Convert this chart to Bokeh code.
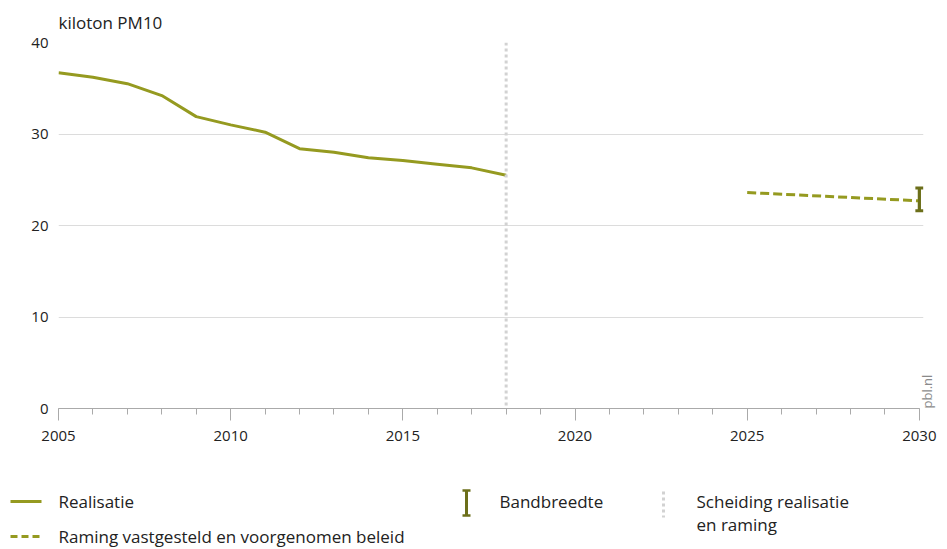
import math

from bokeh.embed import file_html
from bokeh.resources import INLINE
from bokeh.plotting import figure
from bokeh.layouts import column
from bokeh.core.properties import value
from bokeh.models import (Range1d, SingleIntervalTicker, FixedTicker, Span,
                          LinearAxis, ColumnDataSource, Whisker)

# --- data -----------------------------------------------------------------
years_real = [2005, 2006, 2007, 2008, 2009, 2010, 2011, 2012, 2013, 2014,
              2015, 2016, 2017, 2018]
pm10_real = [36.7, 36.2, 35.5, 34.2, 31.9, 31.0, 30.2, 28.4, 28.0, 27.4,
             27.1, 26.7, 26.3, 25.5]

years_proj = [2025, 2030]
pm10_proj = [23.6, 22.7]

band_year = [2030]
band_low = [21.6]
band_high = [24.1]

split_year = 2018

y_ticks = [0, 10, 20, 30, 40]

legend_labels = ["Realisatie", "Raming vastgesteld en voorgenomen beleid",
                 "Bandbreedte", "Scheiding realisatie", "en raming"]

# --- styling --------------------------------------------------------------
FONT = "Open Sans"
OLIVE = "#959a20"
OLIVE_DARK = "#6c6f1a"
GRID = "#dcdcdc"
SPLIT = "#d2d2d2"
TEXT = "#222222"

W = 947
H_MAIN = 460
H_LEG = 549 - H_MAIN

# a little room past 2030 so the band's caps are not cut off
p = figure(width=W, height=H_MAIN, output_backend="svg", toolbar_location=None,
           x_range=Range1d(2005, 2030.12), y_range=Range1d(0, 40),
           min_border_left=58, min_border_right=22, min_border_top=42,
           min_border_bottom=52)
p.frame_align = False
p.outline_line_color = None
p.background_fill_color = "white"
p.border_fill_color = "white"

# unit label above the frame
p.title.text = "kiloton PM10"
p.title.align = "left"
p.title.text_font = FONT
p.title.text_font_size = "17px"
p.title.text_font_style = "normal"
p.title.text_color = TEXT
p.title.text_line_height = 1.0
p.title.standoff = 17

# axes
p.xaxis.ticker = SingleIntervalTicker(interval=5, num_minor_ticks=5)
p.xaxis.bounds = (2005, 2030)
p.xaxis.axis_line_color = "#aaaaaa"
p.xaxis.major_tick_line_color = "#aaaaaa"
p.xaxis.minor_tick_line_color = "#aaaaaa"
p.xaxis.major_tick_in = 0
p.xaxis.major_tick_out = 12
p.xaxis.minor_tick_in = 0
p.xaxis.minor_tick_out = 6
p.xaxis.major_label_text_font = FONT
p.xaxis.major_label_text_font_size = "15px"
p.xaxis.major_label_text_color = TEXT
p.xaxis.major_label_standoff = 10

p.yaxis.ticker = y_ticks
p.yaxis.axis_line_color = None
p.yaxis.major_tick_line_color = None
p.yaxis.minor_tick_line_color = None
p.yaxis.major_label_text_font = FONT
p.yaxis.major_label_text_font_size = "15px"
p.yaxis.major_label_text_color = TEXT
p.yaxis.major_label_standoff = 4

# source tag, set low along the right edge
tag_axis = LinearAxis(ticker=FixedTicker(ticks=[]),
                      axis_label="pbl.nl", axis_label_orientation=math.pi / 2,
                      axis_label_align="start",
                      axis_label_standoff=3, axis_label_text_font=FONT,
                      axis_label_text_font_size="13px",
                      axis_label_text_font_style="normal",
                      axis_label_text_line_height=1.0,
                      axis_label_text_color="#8a8a8a",
                      axis_line_color=None, major_tick_line_color=None,
                      minor_tick_line_color=None, major_tick_out=0,
                      major_tick_in=0, minor_tick_out=0, minor_tick_in=0,
                      major_label_standoff=0)
p.add_layout(tag_axis, "right")

p.xgrid.grid_line_color = None
p.ygrid.grid_line_color = GRID
p.ygrid.grid_line_width = 1

# separation between observed and projected
p.add_layout(Span(location=split_year, dimension="height", line_color=SPLIT,
                  line_width=3, line_dash="3 3"))

# series
p.line(years_real, pm10_real, line_color=OLIVE, line_width=3)
p.line(years_proj, pm10_proj, line_color=OLIVE, line_width=3, line_dash="9 4")

band_src = ColumnDataSource(dict(x=band_year, lo=band_low, hi=band_high))
p.segment(x0="x", y0="lo", x1="x", y1="hi", source=band_src,
          line_color=OLIVE_DARK, line_width=3)
whisker = Whisker(base="x", lower="lo", upper="hi", source=band_src,
                  dimension="height", line_color=OLIVE_DARK, line_width=3)
for head in (whisker.upper_head, whisker.lower_head):
    head.size = 8
    head.line_color = OLIVE_DARK
    head.line_width = 3
p.add_layout(whisker)

# --- legend strip (pixel coordinates, y grows downward) -------------------
lg = figure(width=W, height=H_LEG, output_backend="svg", toolbar_location=None,
            x_range=Range1d(0, W), y_range=Range1d(549, H_MAIN),
            min_border=0)
lg.frame_align = False
lg.axis.visible = False
lg.grid.visible = False
lg.outline_line_color = None
lg.border_fill_color = "white"
lg.background_fill_color = "white"

lg.line([10, 41], [501, 501], line_color=OLIVE, line_width=3)
lg.line([10, 41], [536, 536], line_color=OLIVE, line_width=3, line_dash="7 4")
lg.segment(x0=[466], y0=[490], x1=[466], y1=[515], line_color=OLIVE_DARK,
           line_width=3)
lg.segment(x0=[462, 462], y0=[490, 515], x1=[470, 470], y1=[490, 515],
           line_color=OLIVE_DARK, line_width=2.5)
lg.line([663, 663], [491, 517], line_color=SPLIT, line_width=3,
        line_dash="3 3")

lg.text(x=[58, 58, 499, 696, 696], y=[501, 536, 501, 501, 524],
        text=legend_labels, text_font=value(FONT), text_font_size="17px",
        text_color=TEXT, text_align="left", text_baseline="middle")

layout = column(p, lg, spacing=0)

open("out.html", "w").write(file_html(layout, INLINE))
